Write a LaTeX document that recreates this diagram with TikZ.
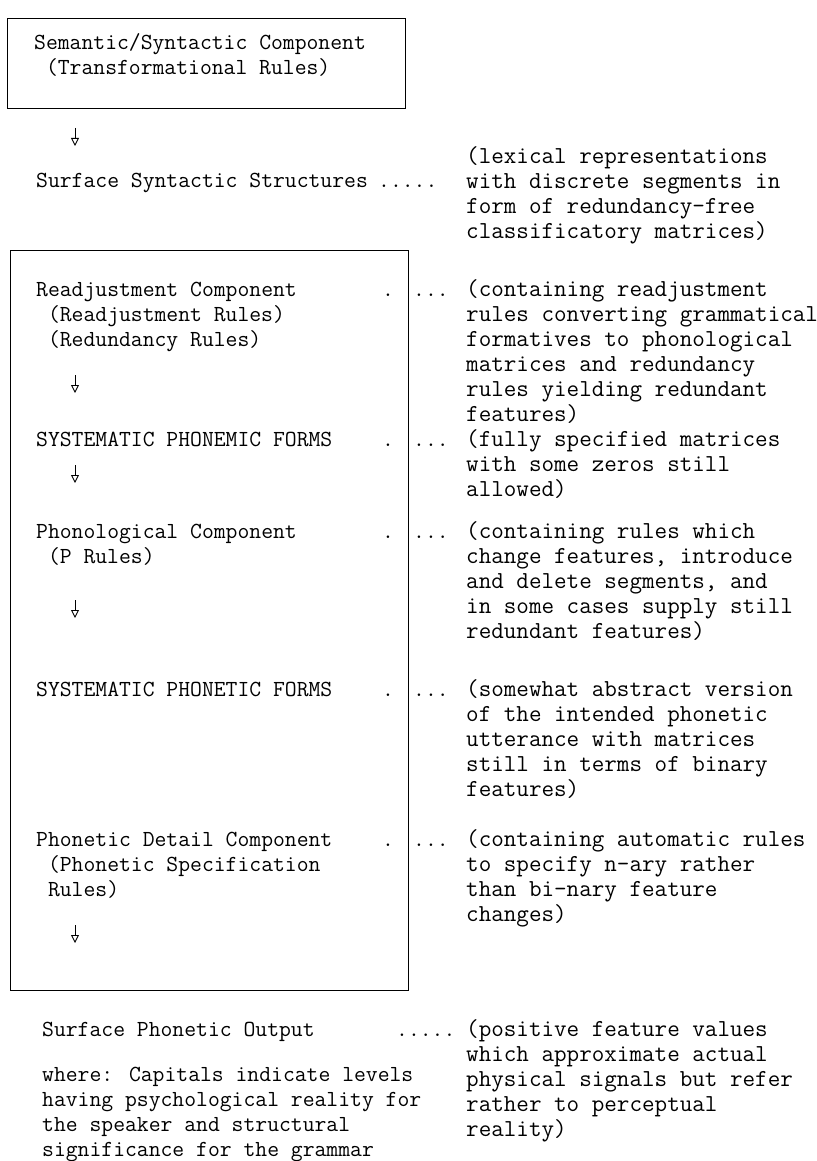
\documentclass[tikz,border=0pt]{standalone}
\usepackage{fontspec}
\usepackage{tikz}
\usetikzlibrary{arrows.meta,positioning}

\newcommand{\onechar}{\hphantom{x}}

\tikzset{
    lefttext/.style={anchor=base west, inner sep=0pt, align=left,
        font=\ttfamily\fontsize{23}{25}\selectfont},
    righttext/.style={anchor=base west, inner sep=0pt, align=left,
        font=\ttfamily\fontsize{24.4}{25}\selectfont},
    compbox/.style={draw, line width=1pt, inner sep=0pt},
    flow/.style={line width=0.9pt, -{Triangle[open, width=8pt, length=8pt]}}
}

\begin{document}
\begin{tikzpicture}[x=1pt, y=-1pt]
    \useasboundingbox (0,0) rectangle (816,1161);
    % multi-line texts are placed at the baseline of their last line

    % Semantic/syntactic part
    \node[compbox, anchor=north west, minimum width=398pt, minimum height=90pt] (sembox) at (7,18) {};
    \node[lefttext] (sem) at (34,75) {Semantic/Syntactic Component\\\onechar(Transformational Rules)};

    \node[lefttext] (sss) at (36,188) {Surface Syntactic Structures};
    \node[lefttext] (sssdots) at (378,188) {.....};
    \node[righttext] (lexical) at (466,238) {(lexical representations\\with discrete segments in\\form of redundancy-free\\classificatory matrices)};

    % Phonological part
    \node[compbox, anchor=north west, minimum width=398pt, minimum height=740pt] (lowerbox) at (10,250) {};

    \node[lefttext] (readj) at (36,346) {Readjustment Component\\\onechar(Readjustment Rules)\\\onechar(Redundancy Rules)};
    \node[righttext] (readjnote) at (466,421) {(containing readjustment\\rules converting grammatical\\formatives to phonological\\matrices and redundancy\\rules yielding redundant\\features)};

    \node[lefttext] (phonemic) at (36,446) {SYSTEMATIC PHONEMIC FORMS};
    \node[righttext] (phonemicnote) at (466,496) {(fully specified matrices\\with some zeros still\\allowed)};

    \node[lefttext] (phonol) at (36,563) {Phonological Component\\\onechar(P Rules)};
    \node[righttext] (phonolnote) at (466,638) {(containing rules which\\change features, introduce\\and delete segments, and\\in some cases supply still\\redundant features)};

    \node[lefttext] (phonetic) at (36,696) {SYSTEMATIC PHONETIC FORMS};
    \node[righttext] (phoneticnote) at (466,796) {(somewhat abstract version\\of the intended phonetic\\utterance with matrices\\still in terms of binary\\features)};

    \node[lefttext] (detail) at (36,896) {Phonetic Detail Component\\\onechar(Phonetic Specification\\\onechar Rules)};
    \node[righttext] (detailnote) at (466,921) {(containing automatic rules\\to specify n-ary rather\\than bi-nary feature\\changes)};

    % dots on both sides of the box edge
    \foreach \y/\n in {296/readj, 446/phonemic, 538/phonol, 696/phonetic, 846/detail} {
        \node[lefttext] (\n dot) at (382,\y) {.};
        \node[lefttext] (\n dots) at (413,\y) {...};
    }

    % arrows
    \foreach \y [count=\i] in {128,375,465,600,925} {
        \coordinate (arrow\i) at (75,\y);
        \draw[flow] (arrow\i) -- ++(0,18);
    }

    % Output
    \node[lefttext] (output) at (42,1036) {Surface Phonetic Output};
    \node[lefttext] (outputdots) at (396,1036) {.....};
    \node[righttext] (outputnote) at (466,1136) {(positive feature values\\which approximate actual\\physical signals but refer\\rather to perceptual\\reality)};

    \node[lefttext] (where) at (42,1156) {where: Capitals indicate levels\\having psychological reality for\\the speaker and structural\\significance for the grammar};
\end{tikzpicture}
\end{document}
